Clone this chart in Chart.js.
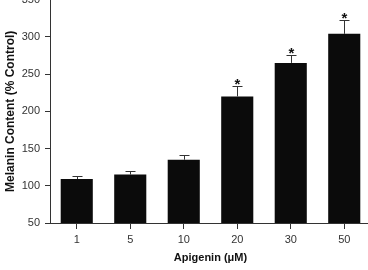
<!DOCTYPE html>
<html>
<head>
<meta charset="utf-8">
<script src="https://cdn.jsdelivr.net/npm/chart.js@4.4.0/dist/chart.umd.min.js"></script>
<style>
  html, body { margin: 0; padding: 0; background: #fff; overflow: hidden; width: 368px; height: 270px; }
  #wrap { position: absolute; left: 0; top: -12px; width: 371px; height: 282px; }
</style>
</head>
<body>
<div id="wrap"><canvas id="c" width="371" height="282"></canvas></div>
<script>
const concentrations = ['1', '5', '10', '20', '30', '50'];
const melanin = [109, 115, 135, 220, 265, 304];
const sem = [4, 5, 6, 14, 10, 18];
const significant = [false, false, false, true, true, true];
const yTicks = [50, 100, 150, 200, 250, 300, 350];

const FONT = '"Liberation Sans", Arial, Helvetica, sans-serif';
const AXIS = '#333';

const errorBars = {
  id: 'errorBars',
  afterDatasetsDraw(chart) {
    const ctx = chart.ctx;
    const xs = chart.scales.x, ys = chart.scales.y;
    ctx.save();
    ctx.strokeStyle = AXIS;
    ctx.lineWidth = 1;
    melanin.forEach((v, i) => {
      const x = Math.round(xs.getPixelForValue(i)) + 0.5;
      const yb = ys.getPixelForValue(v);
      const yt = Math.round(ys.getPixelForValue(v + sem[i])) + 0.5;
      ctx.beginPath();
      ctx.moveTo(x, yb);
      ctx.lineTo(x, yt);
      ctx.moveTo(x - 5, yt);
      ctx.lineTo(x + 5, yt);
      ctx.stroke();
      if (significant[i]) {
        ctx.fillStyle = '#111';
        ctx.font = 'bold 15px ' + FONT;
        ctx.textAlign = 'center';
        ctx.textBaseline = 'alphabetic';
        ctx.fillText('*', x, yt + 2);
      }
    });
    ctx.restore();
  }
};

new Chart(document.getElementById('c'), {
  type: 'bar',
  data: {
    labels: concentrations,
    datasets: [{
      data: melanin,
      backgroundColor: '#0b0b0b',
      borderWidth: 0,
      barPercentage: 0.6,
      categoryPercentage: 1.0
    }]
  },
  options: {
    responsive: false,
    animation: false,
    devicePixelRatio: 1,
    layout: { padding: 0 },
    plugins: { legend: { display: false }, tooltip: { enabled: false } },
    scales: {
      x: {
        type: 'category',
        offset: true,
        border: { color: AXIS, width: 1 },
        grid: { display: true, drawOnChartArea: false, drawTicks: true, tickLength: 6, color: AXIS, offset: false },
        ticks: { color: '#333', font: { family: FONT, size: 11 }, padding: 4, maxRotation: 0 },
        title: { display: true, text: 'Apigenin (μM)', color: '#111', font: { family: FONT, size: 11, weight: 'bold' }, padding: { top: 0, bottom: 5 } },
        afterFit(s) { s.height = 47; }
      },
      y: {
        min: 50,
        max: 350,
        border: { color: AXIS, width: 1 },
        grid: { display: true, drawOnChartArea: false, drawTicks: true, tickLength: 5, color: AXIS },
        afterBuildTicks(s) { s.ticks = yTicks.map(v => ({ value: v })); },
        ticks: { color: '#333', font: { family: FONT, size: 11 }, padding: 5 },
        title: { display: true, text: 'Melanin Content (% Control)', color: '#111', font: { family: FONT, size: 12, weight: 'bold' }, padding: { top: 3, bottom: 0 } },
        afterFit(s) { s.width = 50; }
      }
    }
  },
  plugins: [errorBars]
});
</script>
</body>
</html>
